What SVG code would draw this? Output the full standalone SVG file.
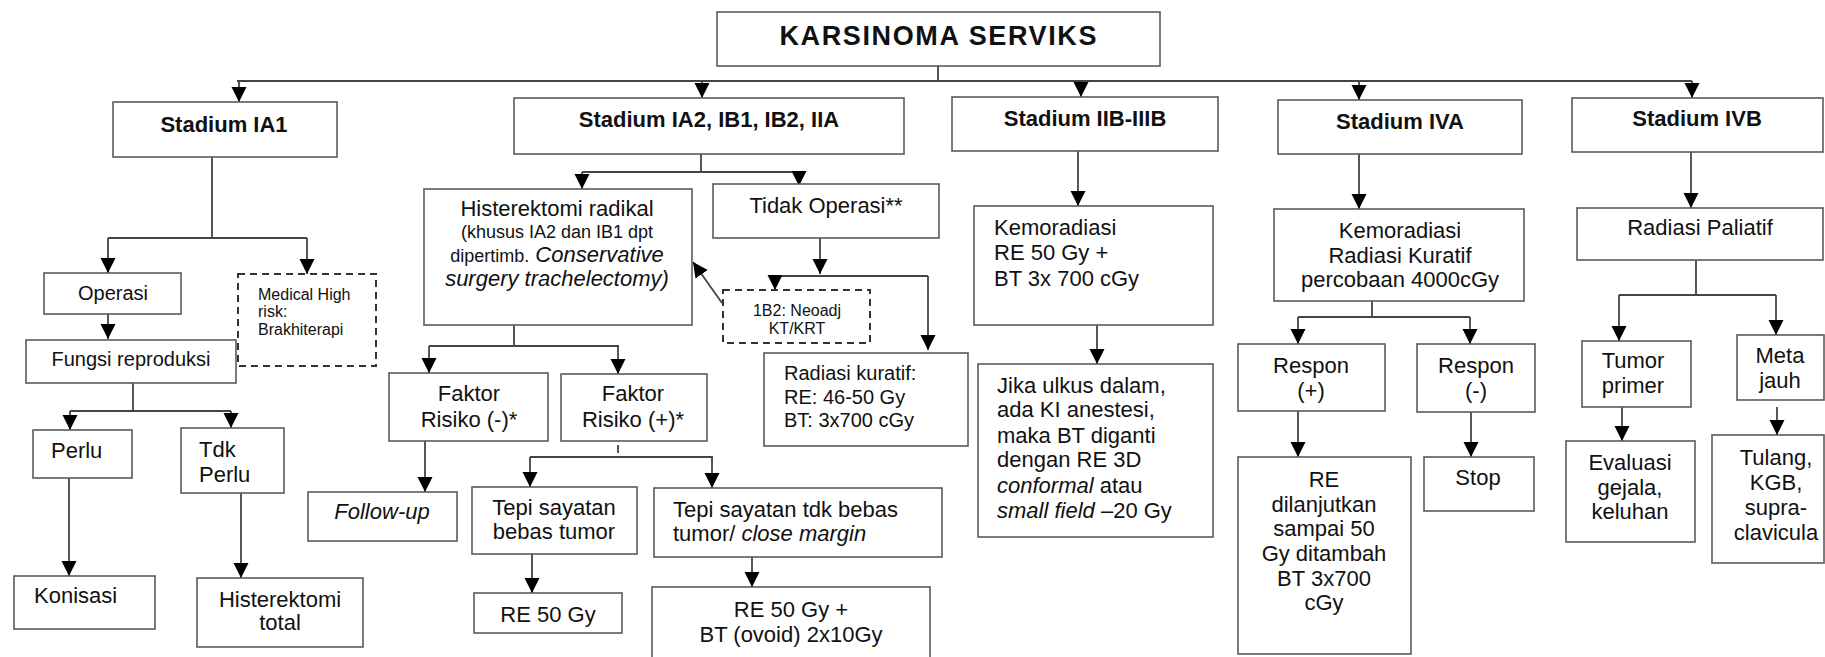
<svg xmlns="http://www.w3.org/2000/svg" width="1825" height="657" viewBox="0 0 1825 657">
<style>
.box{fill:#fff;stroke:#5a5a5a;stroke-width:1.6}
.dash{fill:#fff;stroke:#333;stroke-width:2;stroke-dasharray:7 5}
.ln{fill:none;stroke:#444;stroke-width:1.8}
.t{font-family:"Liberation Sans",Arial,sans-serif;font-size:22px;fill:#111}
.b{font-weight:bold}
.c{text-anchor:middle}
.i{font-style:italic}
.s20{font-size:20px}
.s18{font-size:18px}
.s16{font-size:16px}
.ttl{font-size:27px}
</style>
<defs>
<marker id="ah" viewBox="0 0 16 16" refX="16" refY="8" markerWidth="15" markerHeight="16" markerUnits="userSpaceOnUse" orient="auto"><path d="M0,0 L16,8 L0,16 z" fill="#000"/></marker>
</defs>
<rect width="1825" height="657" fill="#fff"/>

<g id="connectors">
<path class="ln" d="M938,66 V81 M237,81 H1692"/>
<path class="ln" marker-end="url(#ah)" d="M239,81 V102"/>
<path class="ln" marker-end="url(#ah)" d="M702,81 V98"/>
<path class="ln" marker-end="url(#ah)" d="M1081,81 V97"/>
<path class="ln" marker-end="url(#ah)" d="M1359,81 V100"/>
<path class="ln" marker-end="url(#ah)" d="M1692,81 V98"/>
<path class="ln" d="M212,157 V238 M108,238 H307"/>
<path class="ln" marker-end="url(#ah)" d="M108,238 V273"/>
<path class="ln" marker-end="url(#ah)" d="M307,238 V274"/>
<path class="ln" marker-end="url(#ah)" d="M108,314 V339"/>
<path class="ln" d="M133,383 V411 M70,411 H231"/>
<path class="ln" marker-end="url(#ah)" d="M70,411 V430"/>
<path class="ln" marker-end="url(#ah)" d="M231,411 V428"/>
<path class="ln" marker-end="url(#ah)" d="M69,478 V576"/>
<path class="ln" marker-end="url(#ah)" d="M241,493 V578"/>
<path class="ln" d="M701,154 V172 M582,172 H799"/>
<path class="ln" marker-end="url(#ah)" d="M582,172 V189"/>
<path class="ln" marker-end="url(#ah)" d="M799,172 V186"/>
<path class="ln" marker-end="url(#ah)" d="M820,238 V274"/>
<path class="ln" d="M773,276 H928"/>
<path class="ln" marker-end="url(#ah)" d="M775,276 V290"/>
<path class="ln" marker-end="url(#ah)" d="M928,276 V350"/>
<path class="ln" marker-end="url(#ah)" d="M722,303 L693,262"/>
<path class="ln" d="M514,325 V346 M429,346 H619"/>
<path class="ln" marker-end="url(#ah)" d="M429,346 V373"/>
<path class="ln" marker-end="url(#ah)" d="M618,346 V374"/>
<path class="ln" marker-end="url(#ah)" d="M425,441 V492"/>
<path class="ln" d="M618,445 V453 M530,457 H713"/>
<path class="ln" marker-end="url(#ah)" d="M530,457 V487"/>
<path class="ln" marker-end="url(#ah)" d="M712,457 V488"/>
<path class="ln" marker-end="url(#ah)" d="M532,554 V593"/>
<path class="ln" marker-end="url(#ah)" d="M752,557 V587"/>
<path class="ln" marker-end="url(#ah)" d="M1078,151 V206"/>
<path class="ln" marker-end="url(#ah)" d="M1097,325 V364"/>
<path class="ln" marker-end="url(#ah)" d="M1359,154 V209"/>
<path class="ln" d="M1372,301 V317 M1298,317 H1470"/>
<path class="ln" marker-end="url(#ah)" d="M1298,317 V344"/>
<path class="ln" marker-end="url(#ah)" d="M1470,317 V344"/>
<path class="ln" marker-end="url(#ah)" d="M1298,411 V457"/>
<path class="ln" marker-end="url(#ah)" d="M1471,412 V457"/>
<path class="ln" marker-end="url(#ah)" d="M1691,152 V208"/>
<path class="ln" d="M1696,260 V295 M1619,295 H1776"/>
<path class="ln" marker-end="url(#ah)" d="M1619,295 V341"/>
<path class="ln" marker-end="url(#ah)" d="M1776,295 V335"/>
<path class="ln" marker-end="url(#ah)" d="M1622,407 V441"/>
<path class="ln" marker-end="url(#ah)" d="M1777,407 V435"/>
</g>

<g id="title"><rect class="box" x="717" y="12" width="443" height="54"/><text class="t b c ttl" x="938" y="45" textLength="317" lengthAdjust="spacing">KARSINOMA SERVIKS</text></g>

<g id="stadium-ia1"><rect class="box" x="113" y="102" width="224" height="55"/><text class="t b c" x="224" y="132">Stadium IA1</text></g>
<g id="operasi"><rect class="box" x="44" y="273" width="137" height="41"/><text class="t c s20" x="113" y="300">Operasi</text></g>
<g id="medical-high-risk"><rect class="dash" x="238" y="274" width="138" height="92"/><text class="t s16" x="258" y="300">Medical High</text><text class="t s16" x="258" y="317">risk:</text><text class="t s16" x="258" y="335">Brakhiterapi</text></g>
<g id="fungsi-reproduksi"><rect class="box" x="26" y="340" width="210" height="43"/><text class="t c s20" x="131" y="366">Fungsi reproduksi</text></g>
<g id="perlu"><rect class="box" x="33" y="430" width="99" height="48"/><text class="t" x="51" y="458">Perlu</text></g>
<g id="tdk-perlu"><rect class="box" x="181" y="428" width="103" height="65"/><text class="t" x="199" y="457">Tdk</text><text class="t" x="199" y="482">Perlu</text></g>
<g id="konisasi"><rect class="box" x="14" y="576" width="141" height="53"/><text class="t" x="34" y="603">Konisasi</text></g>
<g id="histerektomi-total"><rect class="box" x="197" y="578" width="166" height="69"/><text class="t c" x="280" y="607">Histerektomi</text><text class="t c" x="280" y="630">total</text></g>

<g id="stadium-ia2"><rect class="box" x="514" y="98" width="390" height="56"/><text class="t b c" x="709" y="127">Stadium IA2, IB1, IB2, IIA</text></g>
<g id="histerektomi-radikal"><rect class="box" x="424" y="189" width="268" height="136"/><text class="t c" x="557" y="216">Histerektomi radikal</text><text class="t c s18" x="557" y="238">(khusus IA2 dan IB1 dpt</text><text class="t c" x="557" y="262"><tspan class="s18">dipertimb.</tspan><tspan class="i"> Conservative</tspan></text><text class="t c i" x="557" y="286">surgery trachelectomy)</text></g>
<g id="tidak-operasi"><rect class="box" x="713" y="184" width="226" height="54"/><text class="t c" x="826" y="213">Tidak Operasi**</text></g>
<g id="neoadj"><rect class="dash" x="723" y="290" width="147" height="53"/><text class="t c s16" x="797" y="316">1B2: Neoadj</text><text class="t c s16" x="797" y="334">KT/KRT</text></g>
<g id="radiasi-kuratif"><rect class="box" x="764" y="353" width="204" height="93"/><text class="t s20" x="784" y="380">Radiasi kuratif:</text><text class="t s20" x="784" y="404">RE: 46-50 Gy</text><text class="t s20" x="784" y="427">BT: 3x700 cGy</text></g>
<g id="faktor-neg"><rect class="box" x="389" y="373" width="159" height="68"/><text class="t c" x="469" y="401">Faktor</text><text class="t c" x="469" y="427">Risiko (-)*</text></g>
<g id="faktor-pos"><rect class="box" x="561" y="374" width="146" height="67"/><text class="t c" x="633" y="401">Faktor</text><text class="t c" x="633" y="427">Risiko (+)*</text></g>
<g id="follow-up"><rect class="box" x="308" y="492" width="149" height="49"/><text class="t c i" x="382" y="519">Follow-up</text></g>
<g id="tepi-bebas"><rect class="box" x="472" y="487" width="165" height="67"/><text class="t c" x="554" y="515">Tepi sayatan</text><text class="t c" x="554" y="539">bebas tumor</text></g>
<g id="re-50"><rect class="box" x="474" y="593" width="148" height="40"/><text class="t c" x="548" y="622">RE 50 Gy</text></g>
<g id="tepi-tdk-bebas"><rect class="box" x="654" y="488" width="288" height="69"/><text class="t" x="673" y="517">Tepi sayatan tdk bebas</text><text class="t" x="673" y="541">tumor/<tspan class="i"> close margin</tspan></text></g>
<g id="re-50-bt"><rect class="box" x="652" y="587" width="278" height="85"/><text class="t c" x="791" y="617">RE 50 Gy +</text><text class="t c" x="791" y="642">BT (ovoid) 2x10Gy</text></g>

<g id="stadium-iib"><rect class="box" x="952" y="97" width="266" height="54"/><text class="t b c" x="1085" y="126">Stadium IIB-IIIB</text></g>
<g id="kemoradiasi-iib"><rect class="box" x="974" y="206" width="239" height="119"/><text class="t" x="994" y="235">Kemoradiasi</text><text class="t" x="994" y="260">RE 50 Gy +</text><text class="t" x="994" y="286">BT 3x 700 cGy</text></g>
<g id="jika-ulkus"><rect class="box" x="978" y="364" width="235" height="173"/><text class="t" x="997" y="393">Jika ulkus dalam,</text><text class="t" x="997" y="417">ada KI anestesi,</text><text class="t" x="997" y="443">maka BT diganti</text><text class="t" x="997" y="467">dengan RE 3D</text><text class="t" x="997" y="493"><tspan class="i">conformal</tspan> atau</text><text class="t" x="997" y="518"><tspan class="i">small field</tspan> –20 Gy</text></g>

<g id="stadium-iva"><rect class="box" x="1278" y="100" width="244" height="54"/><text class="t b c" x="1400" y="129">Stadium IVA</text></g>
<g id="kemoradiasi-iva"><rect class="box" x="1274" y="209" width="250" height="92"/><text class="t c" x="1400" y="238">Kemoradiasi</text><text class="t c" x="1400" y="263">Radiasi Kuratif</text><text class="t c" x="1400" y="287">percobaan 4000cGy</text></g>
<g id="respon-pos"><rect class="box" x="1238" y="344" width="147" height="67"/><text class="t c" x="1311" y="373">Respon</text><text class="t c" x="1311" y="398">(+)</text></g>
<g id="respon-neg"><rect class="box" x="1417" y="344" width="118" height="68"/><text class="t c" x="1476" y="373">Respon</text><text class="t c" x="1476" y="398">(-)</text></g>
<g id="re-dilanjutkan"><rect class="box" x="1238" y="457" width="173" height="197"/><text class="t c" x="1324" y="487">RE</text><text class="t c" x="1324" y="512">dilanjutkan</text><text class="t c" x="1324" y="536">sampai 50</text><text class="t c" x="1324" y="561">Gy ditambah</text><text class="t c" x="1324" y="586">BT 3x700</text><text class="t c" x="1324" y="610">cGy</text></g>
<g id="stop"><rect class="box" x="1424" y="457" width="110" height="54"/><text class="t c" x="1478" y="485">Stop</text></g>

<g id="stadium-ivb"><rect class="box" x="1572" y="98" width="251" height="54"/><text class="t b c" x="1697" y="126">Stadium IVB</text></g>
<g id="radiasi-paliatif"><rect class="box" x="1577" y="208" width="246" height="52"/><text class="t c" x="1700" y="235">Radiasi Paliatif</text></g>
<g id="tumor-primer"><rect class="box" x="1582" y="341" width="109" height="66"/><text class="t c" x="1633" y="368">Tumor</text><text class="t c" x="1633" y="393">primer</text></g>
<g id="meta-jauh"><rect class="box" x="1737" y="335" width="87" height="65"/><text class="t c" x="1780" y="363">Meta</text><text class="t c" x="1780" y="388">jauh</text></g>
<g id="evaluasi"><rect class="box" x="1566" y="441" width="129" height="101"/><text class="t c" x="1630" y="470">Evaluasi</text><text class="t c" x="1630" y="495">gejala,</text><text class="t c" x="1630" y="519">keluhan</text></g>
<g id="tulang"><rect class="box" x="1712" y="435" width="112" height="128"/><text class="t c" x="1776" y="465">Tulang,</text><text class="t c" x="1776" y="490">KGB,</text><text class="t c" x="1776" y="515">supra-</text><text class="t c" x="1776" y="540">clavicula</text></g>
</svg>
